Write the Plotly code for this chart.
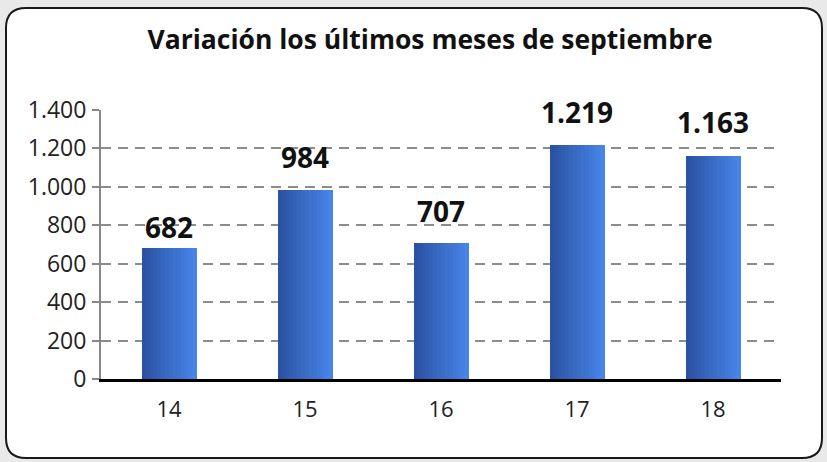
import plotly.graph_objects as go

# data
years = ["14", "15", "16", "17", "18"]
values = [682, 984, 707, 1219, 1163]
y_ticks = [0, 200, 400, 600, 800, 1000, 1200, 1400]
label_gap = [9, 21, 20, 21, 22]  # px between bar top and its label, as in the original

W, H = 827, 462
L, R, T, B = 101, 46, 110, 83
pw, ph = W - L - R, H - T - B

def px(x):
    return (x - L) / pw

def py(y):
    return (H - B - y) / ph

def lerp(c1, c2, t):
    return "#%02x%02x%02x" % tuple(int(round(a + (b - a) * t)) for a, b in zip(c1, c2))

fig = go.Figure()

# fake horizontal gradient: thin overlapping slices of each bar
bar_w = 0.4
n = 14
dark, light = (0x2b, 0x52, 0xa3), (0x47, 0x84, 0xe8)
for i in range(n):
    fig.add_trace(go.Bar(
        x=years, y=values,
        width=bar_w / n * 1.15,
        offset=-bar_w / 2 + i * bar_w / n,
        marker=dict(color=lerp(dark, light, i / (n - 1)), line=dict(width=0)),
        hoverinfo="skip", showlegend=False,
    ))

# value labels (x given as category index)
for idx, (v, g) in enumerate(zip(values, label_gap)):
    fig.add_annotation(x=idx, y=v, text=f"<b>{v:,}</b>".replace(",", "."),
                       showarrow=False, yanchor="bottom", yshift=g - 9,
                       font=dict(family="Open Sans", size=28, color="#111111"))

# rounded white frame
x0, x1, y0, y1, r = 6, 822, 8, 458, 20
path = (
    f"M {px(x0 + r)},{py(y0)} L {px(x1 - r)},{py(y0)} Q {px(x1)},{py(y0)} {px(x1)},{py(y0 + r)} "
    f"L {px(x1)},{py(y1 - r)} Q {px(x1)},{py(y1)} {px(x1 - r)},{py(y1)} "
    f"L {px(x0 + r)},{py(y1)} Q {px(x0)},{py(y1)} {px(x0)},{py(y1 - r)} "
    f"L {px(x0)},{py(y0 + r)} Q {px(x0)},{py(y0)} {px(x0 + r)},{py(y0)} Z"
)
fig.add_shape(type="path", path=path, xref="paper", yref="paper",
              fillcolor="white", line=dict(color="#1a1a1a", width=2), layer="below")

fig.update_layout(
    width=W, height=H,
    margin=dict(l=L, r=R, t=T, b=B),
    paper_bgcolor="#e9e9e9", plot_bgcolor="rgba(0,0,0,0)",
    barmode="overlay", bargap=0,
    separators=",.",
    font=dict(family="Open Sans", size=22, color="#222222"),
    title=dict(text="<b>Variación los últimos meses de septiembre</b>",
               x=0.52, xanchor="center", y=0.915, yanchor="middle",
               font=dict(family="Open Sans", size=26.5, color="#111111")),
)
fig.update_xaxes(type="category", range=[-0.5, len(years) - 0.5],
                 showline=True, linecolor="black", linewidth=3, ticks="",
                 tickfont=dict(size=22), showgrid=False, ticklabelstandoff=9)
fig.update_yaxes(range=[0, 1400], tickvals=y_ticks, tickformat=",",
                 showline=True, linecolor="#888888", linewidth=2,
                 ticks="outside", ticklen=7, tickwidth=2, tickcolor="#888888",
                 showgrid=True, gridcolor="#8c8c8c", gridwidth=2, griddash="10px,7px",
                 zeroline=False, tickfont=dict(size=23), ticklabelstandoff=1,
                 automargin=False)

fig.write_html("out.html", config={"displayModeBar": False},
               post_script="document.body.style.margin='0';")
